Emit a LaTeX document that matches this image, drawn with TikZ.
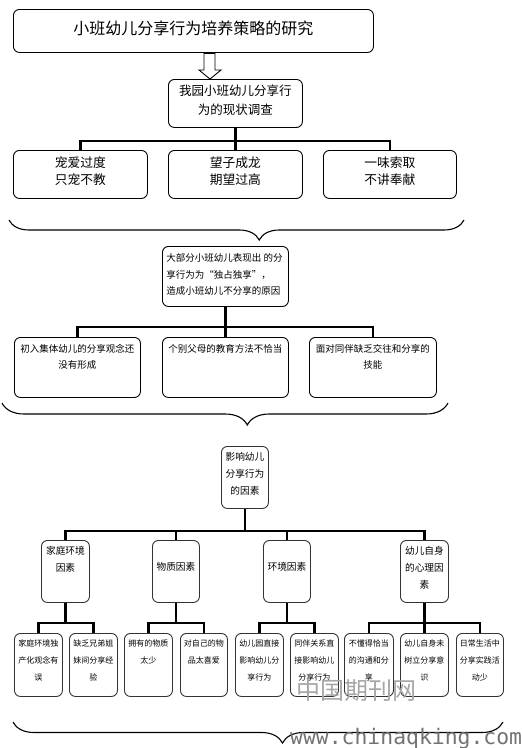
\documentclass[tikz,border=0pt]{standalone}
\usepackage{fontspec}
\setmainfont{Noto Sans CJK SC}
\newfontfamily\wmmono{DejaVu Sans Mono}
\usetikzlibrary{decorations.pathreplacing,backgrounds}
\newcommand{\tb}[4]{\parbox[c][#2pt][t]{#1pt}{\centering\vspace*{#3pt}#4}}
\newcommand{\tbl}[4]{\parbox[c][#2pt][t]{#1pt}{\raggedright\leftskip=4pt\vspace*{#3pt}#4}}
\begin{document}
\begin{tikzpicture}[x=1pt,y=-1pt,
  bx/.style={draw=black, line width=0.9pt, rounded corners=6pt, inner sep=0pt, anchor=north west, fill=white},
  gbx/.style={bx, draw=black!80},
  conn/.style={line width=2.4pt, line cap=rect},
  brc/.style={line width=1.1pt, decorate, decoration={brace, mirror, amplitude=#1, aspect=0.55}},
  f16/.style={font=\fontsize{16}{19}\selectfont},
  f12/.style={font=\fontsize{12.5}{19}\selectfont},
  f13/.style={font=\fontsize{12.75}{17}\selectfont},
  f10/.style={font=\fontsize{9.5}{16.5}\selectfont},
  f10b/.style={font=\fontsize{9.7}{17}\selectfont},
  f8/.style={font=\fontsize{8}{17}\selectfont}]
\useasboundingbox (0,0) rectangle (522,748);

% level 1
\node[bx,f16] (title) at (13,9) {\tb{360}{43}{11}{小班幼儿分享行为培养策略的研究}};
\node[bx,f12] (survey) at (168,79) {\tb{134}{48}{5}{我园小班幼儿分享行\\为的现状调查}};
\draw[line width=0.9pt, fill=white] (204,53.5) -- (204,70) -- (199,70) -- (210,79) -- (221,70) -- (215,70) -- (215,53.5) -- cycle;

% level 2
\node[bx,f13] (s1) at (13,150) {\tb{134}{48}{6}{宠爱过度\\只宠不教}};
\node[bx,f13] (s2) at (168,150) {\tb{134}{48}{6}{望子成龙\\期望过高}};
\node[bx,f13] (s3) at (323,150) {\tb{133}{48}{6}{一味索取\\不讲奉献}};
\draw[brc=20pt] (9,220) -- (464,220);

% level 3
\node[bx,f10] (cause) at (162,246) {\tbl{126}{60}{7.5}{大部分小班幼儿表现出 的分\\享行为为“独占独享”，\\造成小班幼儿不分享的原因}};
\node[bx,f10] (c1) at (14,337) {\tb{126}{60}{6.5}{初入集体幼儿的分享观念还\\没有形成}};
\node[bx,f10] (c2) at (162,337) {\tb{126}{60}{6.5}{个别父母的教育方法不恰当}};
\node[bx,f10] (c3) at (309,337) {\tb{127}{60}{6.5}{面对同伴缺乏交往和分享的\\技能}};
\draw[brc=22pt] (2,403) -- (448,403);

% level 4
\node[gbx,f10b] (factor) at (221,446) {\tb{47}{62}{6}{影响幼儿\\分享行为\\的因素}};
\node[gbx,f10b] (fa) at (41,540) {\tb{48}{62}{6}{家庭环境\\因素}};
\node[gbx,f10b] (fb) at (152,540) {\tb{47}{62}{22}{物质因素}};
\node[gbx,f10b] (fc) at (263,540) {\tb{47}{62}{22}{环境因素}};
\node[gbx,f10b] (fd) at (400,540) {\tb{48}{62}{6}{幼儿自身\\的心理因\\素}};

% leaves
\node[gbx,f8] (l1) at (14,633) {\tb{48}{63}{6.5}{家庭环境独\\产化观念有\\误}};
\node[gbx,f8] (l2) at (69,633) {\tb{48}{63}{6.5}{缺乏兄弟姐\\妹间分享经\\验}};
\node[gbx,f8] (l3) at (124,633) {\tb{48}{63}{6.5}{拥有的物质\\太少}};
\node[gbx,f8] (l4) at (180,633) {\tb{47}{63}{6.5}{对自己的物\\品太喜爱}};
\node[gbx,f8] (l5) at (235,633) {\tb{48}{63}{6.5}{幼儿园直接\\影响幼儿分\\享行为}};
\node[gbx,f8] (l6) at (290,633) {\tb{48}{63}{6.5}{同伴关系直\\接影响幼儿\\分享行为}};
\node[gbx,f8] (l7) at (344,633) {\tb{49}{63}{6.5}{不懂得恰当\\的沟通和分\\享}};
\node[gbx,f8] (l8) at (400,633) {\tb{48}{63}{6.5}{幼儿自身未\\树立分享意\\识}};
\node[gbx,f8] (l9) at (456,633) {\tb{47}{63}{6.5}{日常生活中\\分享实践活\\动少}};
\draw[brc=21pt] (13,722) -- (503,722);

% bus lines
\coordinate (bus1) at (0,141);
\coordinate (bus2) at (0,327);
\coordinate (bus3) at (0,531);
\coordinate (bus4) at (0,623);
\begin{scope}[on background layer]
\foreach \c in {s1,s2,s3} \draw[conn] (survey.south) -- (survey.south |- bus1) -| (\c.north);
\foreach \c in {c1,c2,c3} \draw[conn] (cause.south) -- (cause.south |- bus2) -| (\c.north);
\foreach \c in {fa,fb,fc,fd} \draw[conn] (factor.south) -- (factor.south |- bus3) -| (\c.north);
\foreach \c in {l1,l2} \draw[conn] (fa.south) -- (fa.south |- bus4) -| (\c.north);
\foreach \c in {l3,l4} \draw[conn] (fb.south) -- (fb.south |- bus4) -| (\c.north);
\foreach \c in {l5,l6} \draw[conn] (fc.south) -- (fc.south |- bus4) -| (\c.north);
\foreach \c in {l7,l8,l9} \draw[conn] (fd.south) -- (fd.south |- bus4) -| (\c.north);
\end{scope}

% watermark
\node[text=black!35, font=\fontsize{24}{24}\selectfont, inner sep=0pt] (wm1) at (356,690) {中国期刊网};
\node[text=black!55, font=\wmmono\fontsize{21.4}{22}\selectfont, anchor=base west, inner sep=0pt] (wm2) at (290,744) {www.chinaqking.com};
\end{tikzpicture}
\end{document}
